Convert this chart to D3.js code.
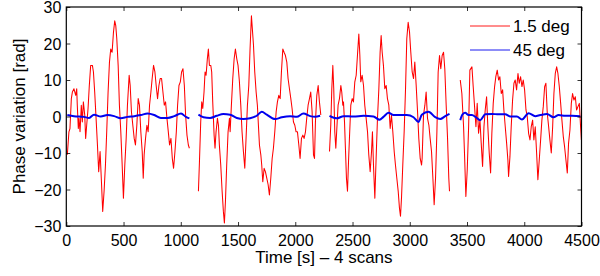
<!DOCTYPE html>
<html><head><meta charset="utf-8">
<script src="https://cdn.jsdelivr.net/npm/d3@7"></script>
<style>
html,body{margin:0;padding:0;background:#fff;}
svg{display:block;}
text{font-family:"Liberation Sans",Arial,Helvetica,sans-serif;}
</style></head>
<body>
<svg id="chart" width="600" height="276"></svg>
<script>
// ---- data ----
const xTicks = [0,500,1000,1500,2000,2500,3000,3500,4000,4500];
const yTicks = [-30,-20,-10,0,10,20,30];
const seriesNames = ["1.5 deg","45 deg"];

// 1.5 deg, scan 1..4 : time [s] and phase [rad]
const t15_1 = [9,23,32,44,53,67,82,91,96,105,111,120,131,140,149,161,169,178,190,201,213,228,237,248,260,272,283,295,307,318,330,342,353,365,377,388,400,412,423,432,441,453,464,476,488,499,511,523,534,549,558,569,581,593,604,616,628,639,651,663,672,680,692,704,715,727,739,750,762,774,785,797,809,820,832,844,856,867,879,891,902,914,926,937,949,961,972,984,996,1007,1019,1031,1042,1054,1066,1075];
const v15_1 = [-10.5,-4.2,-3.3,4.9,6.7,7.6,5.8,7.6,3.1,-3.3,-0.5,-4.2,3.1,-1.5,4.0,0.4,-6.0,-2.4,2.2,8.5,14.0,14.0,12.2,6.7,-0.5,-7.8,-15.1,-9.6,-17.9,-26.0,-20.5,-13.3,-4.2,6.7,14.9,18.5,17.6,23.1,26.2,24.9,21.3,14.0,3.1,-4.2,-13.3,-22.4,-13.3,-6.0,3.1,11.3,8.5,1.3,-2.4,-6.0,-7.8,-2.4,4.9,3.1,-4.2,-9.6,-16.9,-10.5,-6.0,-2.4,-4.2,3.1,6.7,10.4,14.0,12.2,8.5,4.9,8.5,10.4,10.4,6.7,3.1,4.0,-0.5,-4.2,-7.8,-6.0,-11.5,-14.2,-9.6,-4.2,3.1,8.5,9.5,12.2,13.1,8.5,0.4,-5.1,-7.8,-8.7];
const t15_2 = [1154,1163,1174,1183,1192,1203,1212,1221,1232,1241,1250,1262,1270,1279,1291,1299,1308,1320,1329,1337,1349,1361,1372,1381,1390,1401,1413,1425,1431,1442,1454,1466,1477,1489,1500,1512,1524,1535,1547,1559,1570,1582,1594,1605,1617,1623,1635,1646,1658,1669,1678,1687,1699,1707,1716,1728,1739,1751,1763,1774,1786,1798,1809,1821,1833,1844,1856,1868,1879,1891,1902,1914,1926,1937,1949,1961,1972,1984,1996,2007,2019,2031,2042,2054,2066,2077,2089,2100,2112,2124,2135,2147,2159,2168,2176,2188,2200,2211,2223];
const v15_2 = [-20.5,-12.4,-1.5,4.0,2.2,6.7,12.2,11.3,15.8,18.5,14.0,14.0,12.2,4.0,-5.1,-8.7,-4.2,-0.5,-2.4,-7.8,-13.3,-20.5,-26.0,-29.2,-23.3,-13.3,-4.2,-0.5,-4.2,3.1,10.4,15.8,18.5,15.8,14.0,9.5,3.1,-4.2,-9.6,-14.2,-6.0,3.1,8.5,18.5,27.6,24.9,19.5,12.2,6.7,3.1,-2.4,-7.8,-10.5,-13.3,-17.9,-14.2,-15.1,-16.9,-18.7,-21.5,-16.9,-11.5,-8.7,-4.2,1.3,4.0,5.8,4.9,12.2,18.5,17.6,16.7,14.9,10.4,7.6,4.9,2.2,-1.5,-2.4,-4.2,-4.2,-7.8,-11.5,-6.0,-5.1,-6.0,-4.2,-0.5,3.1,4.9,6.7,1.3,-10.5,-11.5,-1.5,5.8,8.5,4.0,0.4];
const t15_3 = [2299,2310,2319,2328,2336,2345,2354,2363,2374,2386,2398,2406,2415,2421,2430,2438,2447,2456,2465,2473,2485,2497,2508,2520,2532,2543,2555,2564,2572,2584,2596,2607,2619,2631,2642,2654,2666,2674,2683,2695,2706,2718,2730,2741,2750,2759,2770,2782,2794,2805,2817,2829,2840,2852,2864,2875,2887,2899,2910,2919,2928,2939,2951,2963,2974,2986,2998,3009,3021,3033,3044,3056,3068,3079,3091,3103,3108,3120,3132,3143,3155,3167,3178,3190,3202,3213,3225,3237,3248,3260,3271,3283,3295,3306,3318,3330,3341,3347];
const v15_3 = [-9.6,-2.4,7.6,14.0,7.6,-4.2,-8.7,-3.3,3.1,4.9,8.5,6.7,3.1,4.0,-1.5,-8.7,-16.9,-20.5,-12.4,-6.0,3.1,4.9,4.0,9.5,11.3,16.7,22.6,16.7,9.5,11.3,8.5,3.1,-0.5,-4.2,-10.5,-15.1,-9.6,-4.2,-13.3,-22.4,-11.5,-0.5,7.6,17.6,22.2,17.6,14.0,7.6,8.5,4.9,3.1,-3.3,0.4,-4.2,-9.6,-13.3,-16.9,-20.5,-25.1,-27.3,-22.2,-13.3,-4.2,7.6,21.3,25.8,23.1,17.6,12.2,10.4,14.9,8.5,1.3,-6.0,-11.5,-13.3,-11.5,0.4,3.1,6.7,-0.5,-2.4,-6.0,-9.6,-16.9,-24.2,-16.9,-4.2,12.2,16.7,13.1,16.7,17.6,13.1,3.1,-6.0,-16.9,-20.5];
const t15_4 = [3441,3455,3470,3479,3490,3502,3514,3525,3543,3554,3566,3578,3589,3601,3613,3624,3636,3648,3659,3671,3682,3694,3706,3717,3729,3741,3752,3764,3776,3787,3799,3811,3822,3834,3846,3857,3863,3875,3886,3898,3910,3921,3933,3945,3956,3968,3980,3991,4003,4015,4026,4038,4050,4061,4073,4084,4096,4108,4119,4131,4143,4154,4166,4178,4189,4201,4213,4224,4236,4248,4259,4271,4283,4294,4306,4318,4329,4341,4352,4364,4376,4387,4399,4411,4422,4434,4446,4457,4469,4481,4492,4499];
const v15_4 = [10.0,6.3,-2.8,-11.0,-21.9,-14.6,-2.8,12.7,13.6,8.2,2.7,-2.8,3.6,-4.6,-1.0,-7.3,-13.7,-2.8,1.8,5.4,-2.8,-10.0,-15.5,-4.6,3.6,8.2,11.0,12.7,10.0,10.9,6.3,7.3,1.8,-2.8,-7.3,-11.9,-16.4,-11.0,-2.8,4.5,9.1,10.0,7.3,11.8,9.1,10.9,8.2,10.0,7.3,1.8,0.0,-4.6,-6.4,-2.8,-1.0,-6.4,-2.8,-10.0,-17.3,-11.9,-6.4,-1.0,2.7,8.2,9.1,0.9,-2.8,-6.4,-10.0,-2.8,6.3,11.8,13.6,11.8,8.2,3.6,-1.0,-5.5,-8.2,-11.9,-15.5,-7.3,-3.7,3.6,6.3,4.5,5.4,1.8,2.7,3.6,-2.8,-6.4];

// 45 deg, scan 1..4
const t45_1 = [9,67,155,199,242,301,359,418,476,534,593,651,710,768,826,885,943,1002,1045,1075];
const v45_1 = [0.4,0.1,-0.1,-0.4,0.5,0.0,0.4,0.1,-0.5,-0.1,0.1,0.4,0.8,0.4,-0.4,-0.4,0.1,0.8,-0.1,-0.5];
const t45_2 = [1154,1198,1256,1314,1372,1431,1489,1547,1605,1664,1707,1751,1824,1882,1955,2013,2071,2130,2173,2217];
const v45_2 = [0.5,-0.2,-0.4,0.2,0.7,0.5,-0.4,-0.7,-0.5,0.2,1.3,0.5,-0.7,-0.2,0.1,-0.1,0.8,0.1,-0.1,0.2];
const t45_3 = [2299,2363,2421,2508,2596,2683,2736,2770,2814,2858,2974,3033,3076,3105,3164,3222,3266,3310,3347];
const v45_3 = [0.2,-0.5,0.1,0.0,0.2,0.0,-0.9,-0.1,1.0,0.4,0.4,-0.2,-1.5,0.5,1.3,-0.2,-0.7,0.1,0.7];
const t45_4 = [3441,3461,3484,3514,3543,3578,3615,3659,3717,3776,3834,3878,3936,3980,4038,4096,4140,4198,4256,4300,4358,4417,4489];
const v45_4 = [-1.0,0.6,1.0,0.4,0.4,-0.2,-1.0,0.6,0.7,0.6,0.6,0.0,0.0,-0.8,0.9,0.1,0.4,0.7,-0.2,0.4,0.2,0.2,0.1];

// ---- drawing ----
const L = 66.3, R = 581.5, T = 7, B = 226;
const svg = d3.select("#chart");
const x = d3.scaleLinear().domain([0,4500]).range([L,R]);
const y = d3.scaleLinear().domain([-30,30]).range([B,T]);
const FS_TICK = 16, FS_LAB = 17;

svg.append("clipPath").attr("id","clip").append("rect")
  .attr("x",L).attr("y",T).attr("width",R-L).attr("height",B-T);

const redLine = d3.line().x(d=>x(d[0])).y(d=>y(d[1]));
const blueLine = d3.line().x(d=>x(d[0])).y(d=>y(d[1])).curve(d3.curveMonotoneX);
const red = [[t15_1,v15_1],[t15_2,v15_2],[t15_3,v15_3],[t15_4,v15_4]];
const blue = [[t45_1,v45_1],[t45_2,v45_2],[t45_3,v45_3],[t45_4,v45_4]];

const g = svg.append("g").attr("clip-path","url(#clip)");
red.forEach(([t,v])=>{
  g.append("path").datum(d3.zip(t,v)).attr("d",redLine)
   .attr("fill","none").attr("stroke","#ff0000").attr("stroke-width",1.05).attr("stroke-linejoin","round");
});
blue.forEach(([t,v])=>{
  g.append("path").datum(d3.zip(t,v)).attr("d",blueLine)
   .attr("fill","none").attr("stroke","#0000ee").attr("stroke-width",2);
});

// axes
const fmt = d3.format("");
const ax = svg.append("g").attr("transform",`translate(0,${B})`)
  .call(d3.axisBottom(x).tickValues(xTicks).tickSizeInner(-4).tickSizeOuter(0).tickPadding(8.5).tickFormat(fmt));
const ay = svg.append("g").attr("transform",`translate(${L},0)`)
  .call(d3.axisLeft(y).tickValues(yTicks).tickSizeInner(-4).tickSizeOuter(0).tickPadding(5));
const axT = svg.append("g").attr("transform",`translate(0,${T})`)
  .call(d3.axisTop(x).tickValues(xTicks).tickSizeInner(-4).tickSizeOuter(0).tickFormat(""));
const ayR = svg.append("g").attr("transform",`translate(${R},0)`)
  .call(d3.axisRight(y).tickValues(yTicks).tickSizeInner(-4).tickSizeOuter(0).tickFormat(""));
[ax,ay,axT,ayR].forEach(a=>{
  a.selectAll(".domain").remove();
  a.selectAll("line").attr("stroke","#000").attr("stroke-width",0.8);
  a.selectAll("text").attr("font-size",FS_TICK).attr("fill","#000")
   .style("font-family",'"Liberation Sans",Arial,Helvetica,sans-serif');
});
ay.selectAll("text").attr("dy","0.36em");
svg.append("rect").attr("x",L).attr("y",T).attr("width",R-L).attr("height",B-T)
  .attr("fill","none").attr("stroke","#000").attr("stroke-width",1.2);

// labels
svg.append("text").attr("x",(L+R)/2).attr("y",263).attr("text-anchor","middle")
  .attr("font-size",FS_LAB).text("Time [s] \u2013 4 scans");
svg.append("text").attr("transform",`translate(25,${(T+B)/2}) rotate(-90)`)
  .attr("text-anchor","middle").attr("font-size",FS_LAB).text("Phase variation [rad]");

// legend
const legColors = ["#ff0000","#0000ee"];
const legY = [26,50];
seriesNames.forEach((n,i)=>{
  svg.append("line").attr("x1",470).attr("x2",510).attr("y1",legY[i]).attr("y2",legY[i])
    .attr("stroke",legColors[i]).attr("stroke-width",0.9);
  svg.append("text").attr("x",513).attr("y",legY[i]+6).attr("font-size",FS_LAB).text(n);
});
</script>
</body></html>
